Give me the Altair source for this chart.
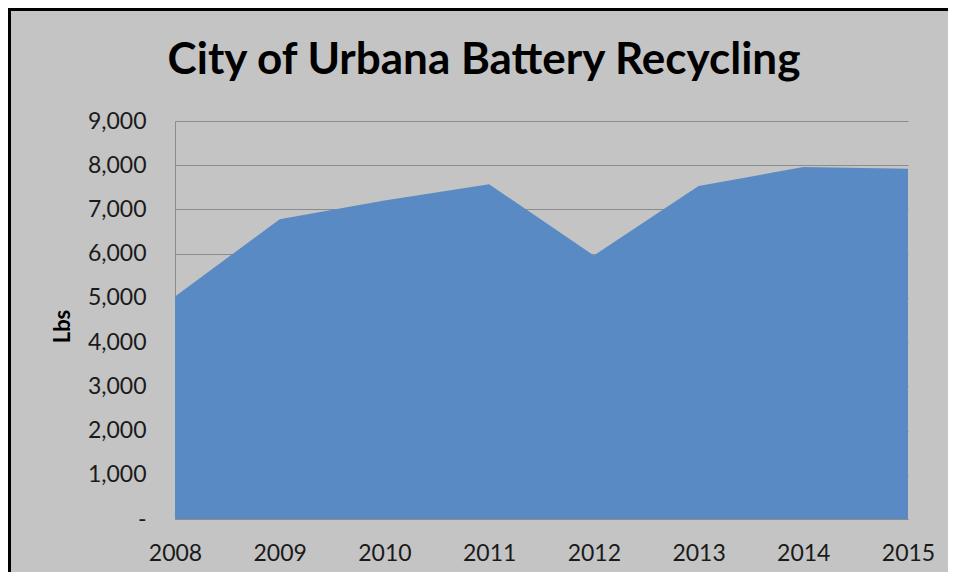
import altair as alt
import pandas as pd

years = [2008, 2009, 2010, 2011, 2012, 2013, 2014, 2015]
lbs = [5030, 6780, 7200, 7570, 5960, 7530, 7960, 7920]
y_ticks = [0, 1000, 2000, 3000, 4000, 5000, 6000, 7000, 8000, 9000]
title_text = ["City of Urbana Battery Recycling"]

df = pd.DataFrame({"Year": years, "Lbs": lbs})

BG = "#c4c4c4"
AREA = "#598ac4"
GRID = "#8c8c8c"
FONT = "Lato"

area = alt.Chart(df).mark_area(color=AREA, opacity=1, line=False).encode(
    x=alt.X(
        "Year:Q",
        scale=alt.Scale(domain=[2008, 2015], nice=False, zero=False),
        axis=alt.Axis(
            values=years,
            format="d",
            title=None,
            grid=False,
            ticks=False,
            tickSize=0,
            domainColor=GRID,
            domainWidth=1,
            labelFont=FONT,
            labelFontSize=23,
            labelColor="#1a1a1a",
            labelPadding=34,
            labelBaseline="middle",
            labelFlush=False,
            labelOverlap=False,
        ),
    ),
    y=alt.Y(
        "Lbs:Q",
        scale=alt.Scale(domain=[0, 9000], nice=False),
        axis=alt.Axis(
            values=y_ticks,
            labelExpr="datum.value == 0 ? '-\u00a0\u00a0\u00a0' : format(datum.value, ',')",
            title="Lbs",
            titleFont=FONT,
            titleFontSize=22,
            titleFontWeight="bold",
            titleColor="#000000",
            titleAngle=270,
            titleX=-113,
            titleY=205,
            titleAlign="center",
            titleBaseline="middle",
            grid=True,
            gridColor=GRID,
            gridWidth=1,
            ticks=False,
            tickSize=0,
            domainColor=GRID,
            domainWidth=1,
            labelFont=FONT,
            labelFontSize=23,
            labelColor="#1a1a1a",
            labelPadding=29,
            labelOverlap=False,
        ),
    ),
)

title_df = pd.DataFrame({"t": title_text})
title = alt.Chart(title_df).mark_text(
    font=FONT, fontSize=44, fontWeight="bold", color="#000000",
    align="center", baseline="alphabetic",
).encode(text="t:N", x=alt.value(309), y=alt.value(-47))

border_df = pd.DataFrame({"b": [1]})
left_border = alt.Chart(border_df).mark_rule(color="#000000", strokeWidth=3).encode(
    x=alt.value(-165.5), y=alt.value(-113), y2=alt.value(451)
)
top_border = alt.Chart(border_df).mark_rule(color="#000000", strokeWidth=3).encode(
    y=alt.value(-111.5), x=alt.value(-167), x2=alt.value(773)
)

chart = (
    alt.layer(area, title, left_border, top_border)
    .properties(
        width=733,
        height=398,
        padding={"left": 167, "top": 113, "right": 40, "bottom": 53},
        autosize=alt.AutoSizeParams(type="none"),
        background=BG,
    )
    .configure_view(stroke=None)
)

chart.save("out.html", embed_options={"renderer": "svg", "actions": False})
